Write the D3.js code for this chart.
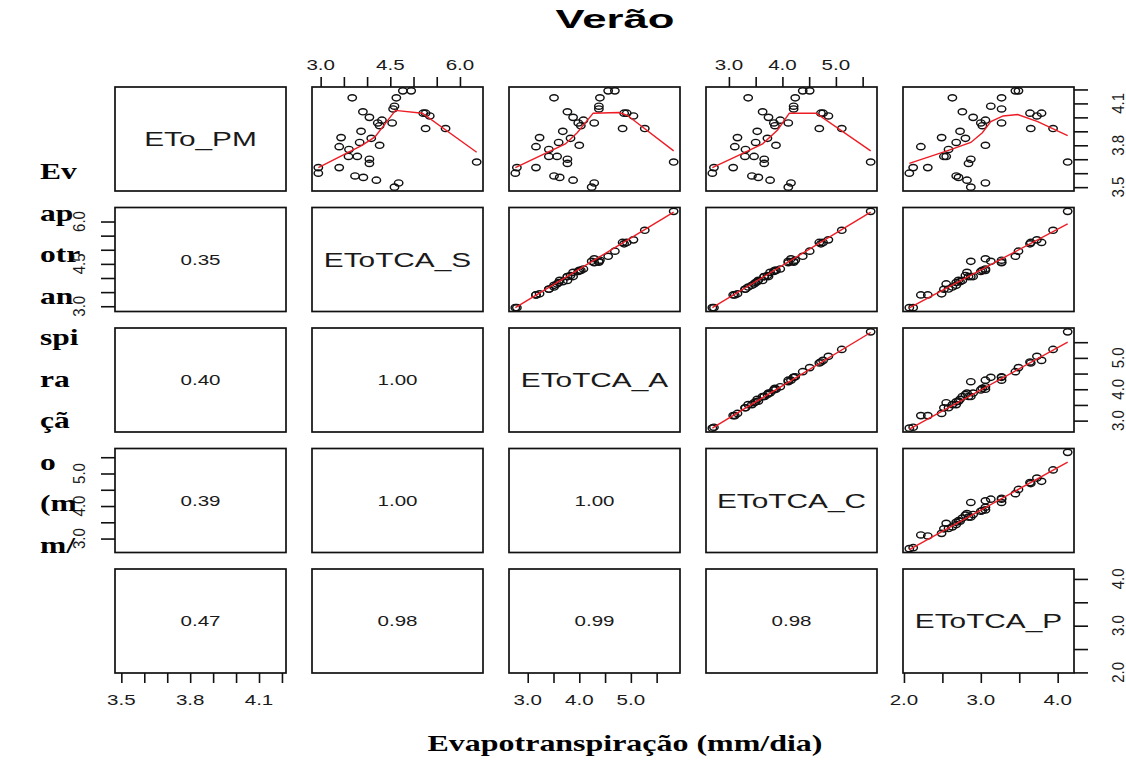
<!DOCTYPE html>
<html>
<head>
<meta charset="utf-8">
<script src="https://cdnjs.cloudflare.com/ajax/libs/d3/7.8.5/d3.min.js"></script>
<style>
  body { margin: 0; background: #fff; }
  svg { display: block; }
</style>
</head>
<body>
<div id="chart"></div>
<script>
// variable names (diagonal)
const varNames = ["ETo_PM", "EToTCA_S", "EToTCA_A", "EToTCA_C", "EToTCA_P"];

const etoPM = [3.64, 3.60, 3.64, 3.855, 3.79, 3.77, 3.72, 3.72, 4.14, 3.58, 3.57, 3.82, 3.90, 4.04, 4.00, 3.70, 3.67, 3.85, 3.55,
  3.96, 3.80, 3.94, 3.98, 3.96, 4.06, 4.08, 4.14, 3.50, 3.53, 4.19, 4.19, 4.03, 4.03, 4.01, 3.92, 3.92, 3.68];
const etoS = [2.95, 2.95, 3.40, 3.44, 3.40, 3.61, 3.60, 3.79, 3.68, 3.74, 3.92, 3.84, 3.87, 3.91, 4.05, 4.05, 4.05, 4.09, 4.20,
  4.23, 4.27, 4.27, 4.32, 4.54, 4.56, 4.59, 4.63, 4.59, 4.68, 4.77, 4.95, 5.21, 5.26, 5.35, 5.26, 5.69, 6.36];
const etoA = [2.79, 2.76, 3.16, 3.23, 3.16, 3.41, 3.41, 3.57, 3.51, 3.51, 3.62, 3.60, 3.68, 3.77, 3.88, 3.77, 3.77, 3.83, 3.88,
  3.98, 4.00, 4.03, 4.08, 4.29, 4.38, 4.38, 4.40, 4.24, 4.29, 4.56, 4.69, 4.87, 4.92, 5.05, 4.84, 5.27, 5.83];
const etoC = [2.72, 2.69, 3.08, 3.16, 3.11, 3.31, 3.30, 3.47, 3.36, 3.43, 3.55, 3.50, 3.53, 3.63, 3.74, 3.66, 3.66, 3.72, 3.77,
  3.84, 3.88, 3.86, 3.96, 4.11, 4.21, 4.21, 4.24, 4.11, 4.16, 4.38, 4.51, 4.72, 4.76, 4.86, 4.69, 5.11, 5.65];
const etoP = [2.12, 2.07, 2.31, 2.49, 2.22, 2.58, 2.52, 2.55, 2.63, 2.68, 2.71, 2.68, 2.73, 2.76, 2.90, 2.87, 2.84, 2.80, 2.82,
  3.00, 3.06, 3.02, 3.06, 3.27, 3.27, 3.13, 3.27, 2.87, 3.06, 3.45, 3.49, 3.64, 3.79, 3.73, 3.65, 3.94, 4.13];

// correlation text in the lower panels, row by row
const corrLabels = ["0.35", "0.40", "1.00", "0.39", "1.00", "1.00", "0.47", "0.98", "0.99", "0.98"];

// red smooth lines [x, y]
const smoothPM_S = [[2.95, 3.64], [3.89, 3.80], [4.17, 3.86], [4.61, 4.05], [5.19, 4.03], [6.36, 3.75]];
const smoothPM_A = [[2.76, 3.64], [3.73, 3.81], [3.96, 3.89], [4.27, 4.03], [4.77, 4.035], [4.93, 4.015], [5.83, 3.76]];
const smoothPM_C = [[2.69, 3.64], [3.19, 3.73], [3.63, 3.81], [3.91, 3.91], [4.13, 4.03], [4.63, 4.03], [5.65, 3.76]];
const smoothPM_P = [[2.07, 3.67], [2.56, 3.76], [2.87, 3.82], [3.02, 3.89], [3.13, 3.97], [3.29, 4.01], [3.48, 4.02], [3.74, 3.97], [4.13, 3.87]];
const smoothS_A = [[2.76, 2.95], [5.83, 6.33]];
const smoothS_C = [[2.69, 2.95], [5.65, 6.33]];
const smoothS_P = [[2.07, 2.94], [4.13, 5.92]];
const smoothA_C = [[2.69, 2.76], [5.65, 5.81]];
const smoothA_P = [[2.07, 2.73], [4.13, 5.50]];
const smoothC_P = [[2.07, 2.66], [4.13, 5.35]];

// axis ticks and the labels R kept
const ticksPM = [3.5, 3.6, 3.7, 3.8, 3.9, 4.0, 4.1, 4.2];
const labelsPM = [3.5, 3.8, 4.1];
const ticksS = [3.0, 3.5, 4.0, 4.5, 5.0, 5.5, 6.0];
const labelsS = [3.0, 4.5, 6.0];
const ticksA = [3.0, 3.5, 4.0, 4.5, 5.0, 5.5];
const labelsA = [3.0, 4.0, 5.0];
const ticksC = [3.0, 3.5, 4.0, 4.5, 5.0, 5.5];
const labelsC = [3.0, 4.0, 5.0];
const ticksP = [2.0, 2.5, 3.0, 3.5, 4.0];
const labelsP = [2.0, 3.0, 4.0];

const yLabelLines = ["Ev", "ap", "otr", "an", "spi", "ra", "çã", "o", "(m", "m/"];

// ---------- layout ----------
const width = 1126, height = 762;
const panel = { x0: 115, y0: 87, w: 171, h: 104, dx: 197, dy: 120.5 };
const stretch = 1.37; // the original image is wide-stretched

const columns = [etoPM, etoS, etoA, etoC, etoP];
const tickSets = [ticksPM, ticksS, ticksA, ticksC, ticksP];
const labelSets = [labelsPM, labelsS, labelsA, labelsC, labelsP];
const smooths = {
  "0-1": smoothPM_S, "0-2": smoothPM_A, "0-3": smoothPM_C, "0-4": smoothPM_P,
  "1-2": smoothS_A, "1-3": smoothS_C, "1-4": smoothS_P,
  "2-3": smoothA_C, "2-4": smoothA_P, "3-4": smoothC_P
};

const svg = d3.select("#chart").append("svg")
  .attr("width", width)
  .attr("height", height)
  .style("font-family", "'Liberation Sans', Arial, sans-serif");

// R style: range padded by 4%
function padded(v) {
  const [lo, hi] = d3.extent(v);
  const p = (hi - lo) * 0.04;
  return [lo - p, hi + p];
}
const xScales = columns.map((v, j) => d3.scaleLinear().domain(padded(v))
  .range([panel.x0 + j * panel.dx, panel.x0 + j * panel.dx + panel.w]));
const yScales = columns.map((v, i) => d3.scaleLinear().domain(padded(v))
  .range([panel.y0 + i * panel.dy + panel.h, panel.y0 + i * panel.dy]));

const line = d3.line();
let corrIdx = 0;

for (let i = 0; i < 5; i++) {
  for (let j = 0; j < 5; j++) {
    const px = panel.x0 + j * panel.dx, py = panel.y0 + i * panel.dy;
    const cx = px + panel.w / 2, cy = py + panel.h / 2;

    if (i === j) {
      svg.append("text")
        .attr("transform", `translate(${cx},${cy + 7}) scale(${1.42},1)`)
        .attr("text-anchor", "middle")
        .style("font-size", "21px")
        .style("fill", "#1a1a1a")
        .text(varNames[i]);
    } else if (i < j) {
      const xs = xScales[j], ys = yScales[i];
      svg.append("g").selectAll("ellipse")
        .data(columns[j].map((x, k) => [x, columns[i][k]]))
        .enter().append("ellipse")
        .attr("cx", d => xs(d[0]))
        .attr("cy", d => ys(d[1]))
        .attr("rx", 4.2)
        .attr("ry", 3.1)
        .attr("fill", "none")
        .attr("stroke", "#111")
        .attr("stroke-width", 1.45);

      svg.append("path")
        .attr("d", line(smooths[`${i}-${j}`].map(d => [xs(d[0]), ys(d[1])])))
        .attr("fill", "none")
        .attr("stroke", "#ee1c24")
        .attr("stroke-width", 1.4);
    } else {
      svg.append("text")
        .attr("transform", `translate(${cx},${cy + 5}) scale(${stretch},1)`)
        .attr("text-anchor", "middle")
        .style("font-size", "15px")
        .style("fill", "#1a1a1a")
        .text(corrLabels[corrIdx++]);
    }

    svg.append("rect")
      .attr("x", px).attr("y", py)
      .attr("width", panel.w).attr("height", panel.h)
      .attr("fill", "none")
      .attr("stroke", "#111")
      .attr("stroke-width", 1.7);
  }
}

// ---------- axes (alternating sides like pairs()) ----------
const fmt = d3.format(".1f");

function xAxis(j, side) {
  const y = side === "bottom" ? panel.y0 + 4 * panel.dy + panel.h : panel.y0;
  const axis = (side === "bottom" ? d3.axisBottom(xScales[j]) : d3.axisTop(xScales[j]))
    .tickValues(tickSets[j]).tickSize(10).tickSizeOuter(0).tickFormat("");
  const g = svg.append("g").attr("transform", `translate(0,${y})`).call(axis);
  g.select(".domain").remove();
  g.selectAll("line").attr("stroke", "#111").attr("stroke-width", 1.6);
  labelSets[j].forEach(v => {
    svg.append("text")
      .attr("transform", `translate(${xScales[j](v)},${side === "bottom" ? y + 32 : y - 17}) scale(${stretch},1)`)
      .attr("text-anchor", "middle")
      .style("font-size", "15px")
      .style("fill", "#1a1a1a")
      .text(fmt(v));
  });
}

function yAxis(i, side) {
  const x = side === "left" ? panel.x0 : panel.x0 + 4 * panel.dx + panel.w;
  const axis = (side === "left" ? d3.axisLeft(yScales[i]) : d3.axisRight(yScales[i]))
    .tickValues(tickSets[i]).tickSize(14).tickSizeOuter(0).tickFormat("");
  const g = svg.append("g").attr("transform", `translate(${x},0)`).call(axis);
  g.select(".domain").remove();
  g.selectAll("line").attr("stroke", "#111").attr("stroke-width", 1.6);
  labelSets[i].forEach(v => {
    svg.append("text")
      .attr("transform", `translate(${side === "left" ? x - 30 : x + 50},${yScales[i](v)}) rotate(-90) scale(1,1.1)`)
      .attr("text-anchor", "middle")
      .style("font-size", "15px")
      .style("fill", "#1a1a1a")
      .text(fmt(v));
  });
}

xAxis(0, "bottom"); xAxis(2, "bottom"); xAxis(4, "bottom");
xAxis(1, "top"); xAxis(3, "top");
yAxis(1, "left"); yAxis(3, "left");
yAxis(0, "right"); yAxis(2, "right"); yAxis(4, "right");

// ---------- titles ----------
svg.append("text")
  .attr("transform", `translate(615,28) scale(1.68,1)`)
  .attr("text-anchor", "middle")
  .style("font-size", "26px")
  .style("font-weight", "bold")
  .text("Verão");

svg.append("text")
  .attr("transform", `translate(625,751) scale(1.39,1)`)
  .attr("text-anchor", "middle")
  .style("font-family", "'Liberation Serif', 'Times New Roman', serif")
  .style("font-size", "23px")
  .style("font-weight", "bold")
  .text("Evapotranspiração (mm/dia)");

svg.append("g").selectAll("text")
  .data(yLabelLines)
  .enter().append("text")
  .attr("transform", (d, k) => `translate(40,${179 + k * 41.5}) scale(${stretch},1)`)
  .style("font-family", "'Liberation Serif', 'Times New Roman', serif")
  .style("font-size", "23px")
  .style("font-weight", "bold")
  .text(d => d);
</script>
</body>
</html>
